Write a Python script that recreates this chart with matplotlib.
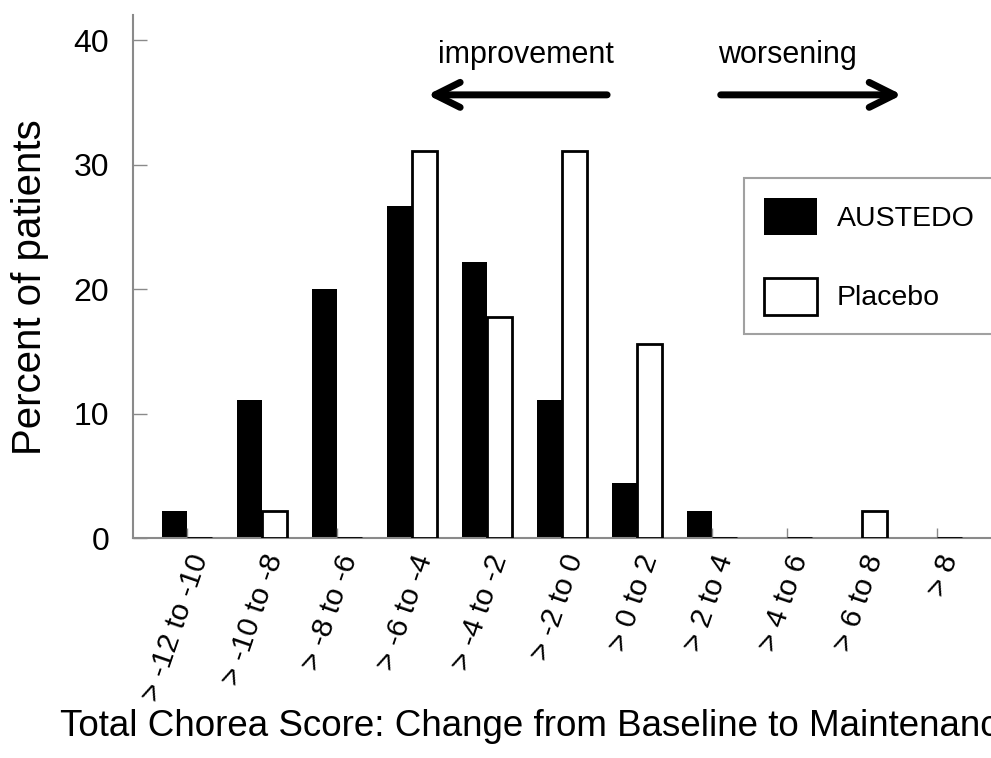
import numpy as np
import matplotlib.pyplot as plt

plt.rcParams['font.family'] = ['Liberation Sans', 'DejaVu Sans']

# Datos
categorias = ['> -12 to -10', '> -10 to -8', '> -8 to -6', '> -6 to -4', '> -4 to -2',
              '> -2 to 0', '> 0 to 2', '> 2 to 4', '> 4 to 6', '> 6 to 8', '> 8']
austedo = [2.2, 11.1, 20.0, 26.7, 22.2, 11.1, 4.4, 2.2, 0, 0, 0]
placebo = [0, 2.2, 0, 31.1, 17.8, 31.1, 15.6, 0, 0, 2.2, 0]

x = np.arange(len(categorias))
w = 1/3

fig = plt.figure(figsize=(9.91, 7.58), dpi=100)
ax = fig.add_axes([0.134, 0.290, 0.866, 0.690])

b1 = ax.bar(x - w/2, austedo, w, color='black', linewidth=0, label='AUSTEDO')
b2 = ax.bar(x + w/2, placebo, w, color='white', edgecolor='black', linewidth=2.0,
            label='Placebo', zorder=3)

ax.set_xlim(-0.72, 10.72)
ax.set_ylim(0, 42)
ax.set_yticks([0, 10, 20, 30, 40])
ax.set_xticks(x)
ax.set_xticklabels(categorias, rotation=71, ha='right', va='top',
                   rotation_mode='anchor', fontsize=21.5)

for s in ['top', 'right']:
    ax.spines[s].set_visible(False)
for s in ['left', 'bottom']:
    ax.spines[s].set_color('#8a8a8a')
    ax.spines[s].set_linewidth(1.5)

ax.tick_params(axis='y', direction='in', length=10, width=1, color='#8a8a8a',
               labelsize=23, pad=17)
ax.tick_params(axis='x', direction='in', length=7, width=1, color='#8a8a8a', pad=9)

ax.set_ylabel('Percent of patients', fontsize=29, va='center')
ax.yaxis.set_label_coords(-0.12, 0.48)
ax.set_xlabel('Total Chorea Score: Change from Baseline to Maintenance', fontsize=26.5,
              ha='left', va='center')
ax.xaxis.set_label_coords(-0.085, -0.36)

# flechas
ax.annotate('', xy=(3.17, 35.6), xytext=(5.64, 35.6),
            arrowprops=dict(arrowstyle='->', lw=5, color='black', mutation_scale=45))
ax.annotate('', xy=(9.57, 35.6), xytext=(7.08, 35.6),
            arrowprops=dict(arrowstyle='->', lw=5, color='black', mutation_scale=45))
ax.text(4.52, 38.8, 'improvement', fontsize=22, ha='center', va='center')
ax.text(8.01, 38.8, 'worsening', fontsize=22, ha='center', va='center')

leg = ax.legend(handles=[b1, b2], loc='upper left', bbox_to_anchor=(744/991, 1 - 178/758),
                bbox_transform=fig.transFigure, fontsize=20.5, frameon=True, fancybox=False,
                handlelength=1.86, handleheight=1.62, labelspacing=1.5, handletextpad=0.7,
                borderpad=0.7, borderaxespad=0)
leg.get_frame().set_edgecolor('#8a8a8a')
leg.get_frame().set_linewidth(1.5)

plt.savefig('out.png', dpi=100)
